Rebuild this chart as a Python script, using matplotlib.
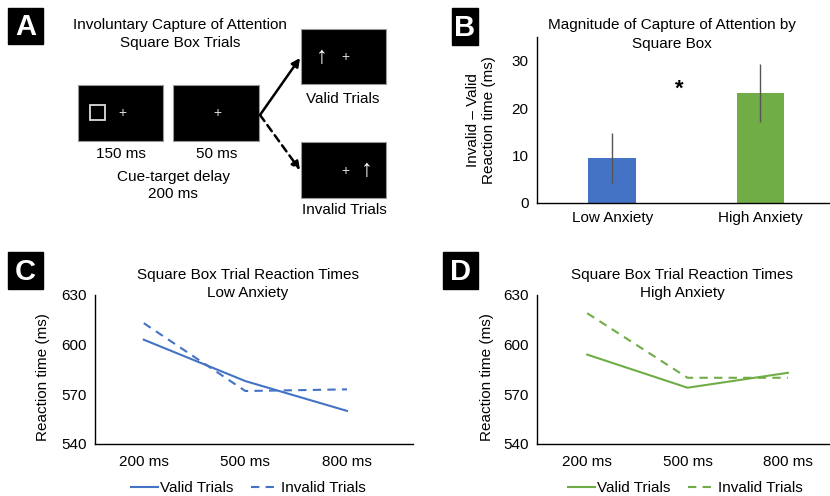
import matplotlib
matplotlib.use("Agg")
import matplotlib.pyplot as plt
from matplotlib.patches import Rectangle

plt.rcParams['font.family'] = ['Liberation Sans', 'DejaVu Sans']

# panel B data
groups = ['Low Anxiety', 'High Anxiety']
capture = [9.5, 23.2]
capture_err = [5.3, 6.1]
bar_colors = ['#4472C4', '#70AD47']

# panels C / D data
delays = ['200 ms', '500 ms', '800 ms']
low_valid = [603, 578, 560]
low_invalid = [613, 572, 573]
high_valid = [594, 574, 583]
high_invalid = [619, 580, 580]

W, H = 830, 496
fig = plt.figure(figsize=(W / 100, H / 100), dpi=100)


def box(l, t, r, b):
    # pixel box -> figure fraction rect
    return [l / W, 1 - b / H, (r - l) / W, (b - t) / H]


# ---- panel A (drawn in pixel coords) + letter boxes + titles ----
ov = fig.add_axes([0, 0, 1, 1])
ov.set_xlim(0, W)
ov.set_ylim(H, 0)
ov.axis('off')
ov.set_zorder(10)

for (l, t, r, b, s) in [(8, 8, 43, 44, 'A'), (452, 8, 478, 45, 'B'),
                        (8, 252, 43, 289, 'C'), (443, 252, 478, 289, 'D')]:
    ov.add_patch(Rectangle((l, t), r - l, b - t, color='black'))
    ov.text((l + r) / 2, (t + b) / 2 + 1, s, color='white', fontsize=21,
            fontweight='bold', ha='center', va='center')

screens = [(78, 85, 163, 141), (173, 85, 259, 141),
           (301, 29, 386, 84), (301, 142, 386, 198)]
for (l, t, r, b) in screens:
    ov.add_patch(Rectangle((l, t), r - l, b - t, facecolor='black',
                           edgecolor='#999999', lw=0.8))

ov.add_patch(Rectangle((90, 105), 15, 15, fill=False, edgecolor='#dddddd', lw=1.3))
for (x, y) in [(122, 113), (217, 113), (345, 57), (345, 171)]:
    ov.text(x, y, '+', color='#dddddd', fontsize=10, ha='center', va='center')
for (x, y) in [(322, 57), (367, 170)]:
    ov.text(x, y, '\u2191', color='white', fontsize=17, ha='center', va='center',
            family='Liberation Sans')

ov.annotate('', xy=(300, 58), xytext=(260, 115),
            arrowprops=dict(arrowstyle='-|>', color='black', lw=1.8,
                            mutation_scale=12, shrinkA=0, shrinkB=0))
ov.annotate('', xy=(300, 170), xytext=(260, 115),
            arrowprops=dict(arrowstyle='-|>', color='black', lw=1.8, ls=(0, (3, 2)),
                            mutation_scale=12, shrinkA=0, shrinkB=0))

fs_a = 11
ov.text(180, 25, 'Involuntary Capture of Attention', fontsize=fs_a, ha='center', va='center')
ov.text(180, 43, 'Square Box Trials', fontsize=fs_a, ha='center', va='center')
ov.text(343, 99, 'Valid Trials', fontsize=fs_a, ha='center', va='center')
ov.text(344, 210, 'Invalid Trials', fontsize=fs_a, ha='center', va='center')
ov.text(121, 154, '150 ms', fontsize=fs_a, ha='center', va='center')
ov.text(217, 154, '50 ms', fontsize=fs_a, ha='center', va='center')
ov.text(173, 177, 'Cue-target delay', fontsize=fs_a, ha='center', va='center')
ov.text(173, 194, '200 ms', fontsize=fs_a, ha='center', va='center')

# chart titles
ttl = 11
ov.text(672, 25, 'Magnitude of Capture of Attention by', fontsize=ttl, ha='center', va='center')
ov.text(672, 44, 'Square Box', fontsize=ttl, ha='center', va='center')
ov.text(248, 275, 'Square Box Trial Reaction Times', fontsize=ttl, ha='center', va='center')
ov.text(248, 293, 'Low Anxiety', fontsize=ttl, ha='center', va='center')
ov.text(682, 275, 'Square Box Trial Reaction Times', fontsize=ttl, ha='center', va='center')
ov.text(682, 293, 'High Anxiety', fontsize=ttl, ha='center', va='center')


def style(ax):
    for s in ['top', 'right']:
        ax.spines[s].set_visible(False)
    ax.spines['left'].set_linewidth(1)
    ax.spines['bottom'].set_linewidth(1)
    ax.tick_params(length=0, labelsize=11, pad=6)
    ax.patch.set_alpha(0)


# ---- panel B ----
axb = fig.add_axes(box(537, 37, 830, 203))
axb.bar(range(len(groups)), capture, width=0.32, color=bar_colors,
        yerr=capture_err, ecolor='#555555', error_kw=dict(lw=1, capsize=0))
axb.set_xlim(-0.507, 1.47)
axb.set_ylim(0, 35)
axb.set_yticks([0, 10, 20, 30])
axb.set_xticks(range(len(groups)))
axb.set_xticklabels(groups)
axb.text(0.45, 24, '*', fontsize=16, fontweight='bold', ha='center', va='center')
axb.set_ylabel('Invalid \u2013 Valid\nReaction time (ms)', fontsize=11, va='center')
axb.yaxis.set_label_coords(-0.19, 0.5)
style(axb)


def rt_panel(rect, valid, invalid, color, xlim, leg_x, lab_x):
    ax = fig.add_axes(rect)
    x = range(len(delays))
    ax.plot(x, valid, color=color, lw=1.5, label='Valid Trials')
    ax.plot(x, invalid, color=color, lw=1.5, ls=(0, (4, 3)), label='Invalid Trials')
    ax.set_xlim(*xlim)
    ax.set_ylim(540, 630)
    ax.set_yticks([540, 570, 600, 630])
    ax.set_xticks(list(x))
    ax.set_xticklabels(delays)
    ax.set_ylabel('Reaction time (ms)', fontsize=11, va='center')
    ax.yaxis.set_label_coords(lab_x, 0.45)
    style(ax)
    ax.tick_params(axis='x', pad=8)
    ax.legend(loc='center', bbox_to_anchor=(leg_x / W, 1 - 488 / H),
              bbox_transform=fig.transFigure, ncol=2, frameon=False,
              fontsize=11, handlelength=1.8, handletextpad=0.1, columnspacing=1.2,
              borderpad=0, borderaxespad=0)
    return ax


rt_panel(box(95, 295, 413, 444), low_valid, low_invalid, '#4472C4', (-0.48, 2.65), 248, -0.164)
rt_panel(box(537, 295, 830, 444), high_valid, high_invalid, '#70AD47', (-0.5, 2.42), 685, -0.171)

fig.savefig('out.png', dpi=100)
